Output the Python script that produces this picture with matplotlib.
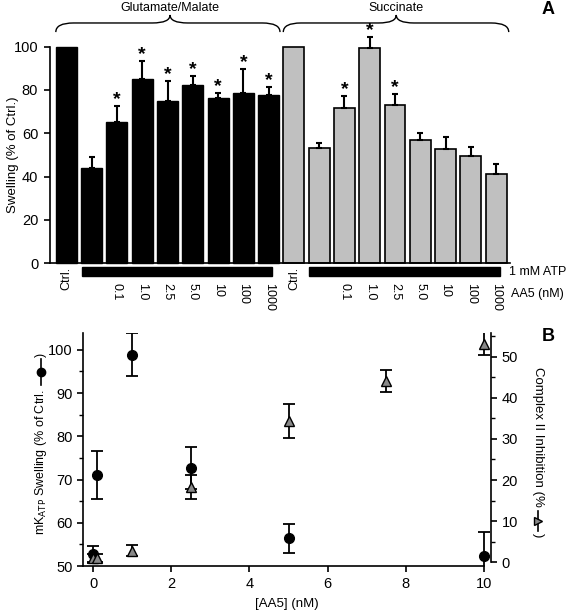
import matplotlib

matplotlib.use("Agg")
import matplotlib.pyplot as plt
import numpy as np
from matplotlib.lines import Line2D
from matplotlib.patches import PathPatch, Rectangle
from matplotlib.path import Path
from matplotlib.transforms import blended_transform_factory

plt.rcParams["font.family"] = ["Liberation Sans", "DejaVu Sans"]

# ---- panel A data ----
gm_mean = [100, 43.8, 65.0, 85.2, 75.1, 82.4, 76.1, 78.6, 77.8]
gm_err = [0, 5.4, 7.7, 8.0, 9.2, 4.2, 2.7, 11.1, 3.5]
gm_sig = [False, False, True, True, True, True, True, True, True]
suc_mean = [100, 53.2, 71.7, 99.4, 73.1, 56.9, 52.6, 49.5, 41.2]
suc_err = [0, 2.2, 5.3, 5.1, 5.0, 3.4, 5.9, 4.0, 4.8]
suc_sig = [False, False, True, True, True, False, False, False, False]
aa5_labels = ["0.1", "1.0", "2.5", "5.0", "10", "100", "1000"]

# ---- panel B data ----
conc_swell = [0, 0.1, 1, 2.5, 5, 10]
swell = [52.7, 71.0, 98.9, 72.7, 56.4, 52.3]
swell_err = [1.9, 5.6, 4.9, 4.8, 3.4, 5.6]
conc_inh = [0, 0.1, 1, 2.5, 5, 7.5, 10]
inh = [1.1, 1.1, 2.8, 18.4, 34.4, 44.1, 53.1]
inh_err = [1.0, 1.0, 1.3, 2.9, 4.2, 2.7, 2.8]

W, H = 567, 612
fig = plt.figure(figsize=(W / 100, H / 100), dpi=100)


def fx(px):
    return px / W


def fy(py):
    return 1 - py / H


def brace(ax, x0, x1, xt, r, y_end=1.067, y_mid=1.109, y_tip=1.146):
    tr = blended_transform_factory(ax.transData, ax.transAxes)
    verts = [
        (x0, y_end), (x0, y_mid), (x0 + r, y_mid),
        (xt - r, y_mid), (xt, y_mid), (xt, y_tip),
        (xt, y_mid), (xt + r, y_mid),
        (x1 - r, y_mid), (x1, y_mid), (x1, y_end),
    ]
    codes = [
        Path.MOVETO, Path.CURVE3, Path.CURVE3,
        Path.LINETO, Path.CURVE3, Path.CURVE3,
        Path.CURVE3, Path.CURVE3,
        Path.LINETO, Path.CURVE3, Path.CURVE3,
    ]
    ax.add_patch(PathPatch(Path(verts, codes), transform=tr, fill=False,
                           lw=1.0, color="black", clip_on=False))


# ================= panel A =================
axA = fig.add_axes([fx(50), fy(263.3), fx(460), 216.7 / H])
n = len(gm_mean)
x_gm = np.arange(n)
x_suc = np.arange(n, 2 * n)
bw = 0.83
axA.bar(x_gm, gm_mean, width=bw, color="black", edgecolor="black", lw=1.0, clip_on=False)
axA.bar(x_suc, suc_mean, width=bw, color="#c0c0c0", edgecolor="black", lw=1.2,
        clip_on=False)
for xs, m, e, sig in [(x_gm, gm_mean, gm_err, gm_sig), (x_suc, suc_mean, suc_err, suc_sig)]:
    m = np.array(m)
    e = np.array(e)
    has = e > 0
    axA.errorbar(xs[has], m[has], yerr=[np.zeros(has.sum()), e[has]], fmt="none",
                 ecolor="black", elinewidth=1.5, capsize=2.5, capthick=1.5, clip_on=False)
    for xi, mi, ei, s in zip(xs, m, e, sig):
        if s:
            axA.annotate("*", xy=(xi, mi + ei), xytext=(0, -1.5), textcoords="offset points",
                         ha="center", va="bottom", fontsize=14, fontweight="bold",
                         annotation_clip=False)

axA.set_xlim(-0.65, 17.55)
axA.set_ylim(0, 100)
axA.set_yticks(range(0, 101, 20))
axA.tick_params(axis="y", direction="out", length=4.5, width=1.2, labelsize=10.5, pad=4)
axA.set_xticks([])
for s in ["top", "right"]:
    axA.spines[s].set_visible(False)
axA.spines["left"].set_linewidth(1.2)
axA.spines["bottom"].set_linewidth(1.2)
fig.text(fx(13), fy(155), "Swelling (% of Ctrl.)", rotation=90, ha="center", va="center",
         fontsize=9.5)

# 1 mM ATP bars and x labels
trA = blended_transform_factory(axA.transData, axA.transAxes)
for xs in [x_gm, x_suc]:
    axA.add_patch(Rectangle((xs[1] - 0.4, -0.059), xs[-1] - xs[1] + 0.55, 0.042,
                            transform=trA, color="black", clip_on=False))
    axA.text(xs[0], -0.016, "Ctrl.", transform=trA, rotation=90, ha="center", va="top",
             fontsize=9)
    for xi, lab in zip(xs[2:], aa5_labels):
        axA.text(xi, -0.09, lab, transform=trA, rotation=270, ha="center", va="top",
                 fontsize=9)
fig.text(fx(509), fy(272), "1 mM ATP", fontsize=9, va="center", ha="left")
fig.text(fx(511), fy(294), "AA5 (nM)", fontsize=9, va="center", ha="left")

brace(axA, x_gm[0] - 0.42, x_gm[-1] + 0.45, (x_gm[0] + x_gm[-1]) / 2 + 0.1, 0.7)
brace(axA, x_suc[0] - 0.42, x_suc[-1] + 0.5, (x_suc[0] + x_suc[-1]) / 2 + 0.05, 0.7)
axA.text((x_gm[0] + x_gm[-1]) / 2 + 0.1, 1.178, "Glutamate/Malate", transform=trA,
         ha="center", va="center", fontsize=9)
axA.text((x_suc[0] + x_suc[-1]) / 2 + 0.05, 1.178, "Succinate", transform=trA,
         ha="center", va="center", fontsize=9)
fig.text(fx(548), fy(9), "A", fontsize=13, fontweight="bold", ha="center", va="center")

# ================= panel B =================
axB = fig.add_axes([fx(83), fy(566), fx(408), 233 / H])
axB.errorbar(conc_swell, swell, yerr=swell_err, fmt="o", color="black", ms=7,
             elinewidth=1.3, capsize=4, capthick=1.3, zorder=3)
axB.set_xlim(-0.26, 10.18)
axB.set_ylim(50, 103.9)
axB.set_xticks(range(0, 11, 2))
axB.set_yticks(range(50, 101, 10))
axB.set_yticks(range(55, 101, 10), minor=True)
axB.tick_params(axis="both", which="major", direction="out", length=4.5, width=1.2,
                labelsize=10.5)
axB.tick_params(axis="y", which="major", pad=3)
axB.tick_params(axis="y", which="minor", direction="out", length=3, width=1.0)
axB.spines["top"].set_visible(False)
axB.spines["right"].set_visible(False)
axB.spines["left"].set_linewidth(1.2)
axB.spines["bottom"].set_linewidth(1.2)
axB.spines["bottom"].set_bounds(-0.26, 10)
axB.set_xlabel("[AA5] (nM)", fontsize=9.5, labelpad=5)

axB2 = axB.twinx()
axB2.errorbar(conc_inh, inh, yerr=inh_err, fmt="^", color="black", mfc="#888888",
              mec="black", ms=7, elinewidth=1.3, capsize=4, capthick=1.3, zorder=3)
axB2.set_ylim(-0.9, 55.76)
axB2.set_yticks(range(0, 51, 10))
axB2.set_yticks(range(5, 56, 10), minor=True)
axB2.tick_params(axis="y", which="major", direction="out", length=4.5, width=1.2,
                 labelsize=10.5, pad=3)
axB2.tick_params(axis="y", which="minor", direction="out", length=3, width=1.0)
for s in ["top", "left", "bottom"]:
    axB2.spines[s].set_visible(False)
axB2.spines["right"].set_linewidth(1.2)
axB2.spines["right"].set_bounds(0, 55.76)

# axis titles with an embedded symbol key: text, then line+marker, then ")"
renderer = fig.canvas.get_renderer()

tl = fig.text(fx(41), fy(535), r"mK$_{\mathrm{ATP}}$ Swelling (% of Ctrl.", rotation=90,
              ha="center", va="bottom", fontsize=9)
top_px = tl.get_window_extent(renderer).y1  # display coords, origin bottom
k0, k1 = top_px + 4, top_px + 30
kx = fx(41)
fig.add_artist(Line2D([kx, kx], [k0 / H, k1 / H], color="black", lw=1.2,
                      transform=fig.transFigure))
fig.add_artist(Line2D([kx], [(k0 + k1) / 2 / H], marker="o", color="black", ms=6,
                      transform=fig.transFigure))
fig.text(kx, (k1 + 2) / H, ")", rotation=90, ha="center", va="bottom", fontsize=9)

tr = fig.text(fx(538), fy(367), "Complex II Inhibition (%", rotation=270,
              ha="center", va="top", fontsize=9.5)
bot_px = tr.get_window_extent(renderer).y0
k0, k1 = bot_px - 4, bot_px - 24
kx = fx(538)
fig.add_artist(Line2D([kx, kx], [k0 / H, k1 / H], color="black", lw=1.2,
                      transform=fig.transFigure))
fig.add_artist(Line2D([kx], [(k0 + k1) / 2 / H], marker=">", color="black", mfc="#888888",
                      mec="black", ms=6, transform=fig.transFigure))
fig.text(kx, (k1 - 2) / H, ")", rotation=270, ha="center", va="top", fontsize=9.5)
fig.text(fx(548), fy(336), "B", fontsize=13, fontweight="bold", ha="center", va="center")

fig.savefig("out.png", dpi=100)
